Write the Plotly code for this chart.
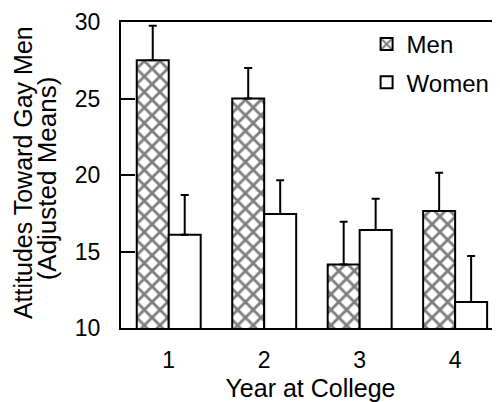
import plotly.graph_objects as go

years = [1, 2, 3, 4]
year_labels = ["1", "2", "3", "4"]
men_means = [27.5, 25.0, 14.15, 17.65]
men_err = [2.25, 2.0, 2.8, 2.5]
women_means = [16.1, 17.45, 16.4, 11.7]
women_err = [2.6, 2.2, 2.05, 3.0]

FONT = "Liberation Sans, Arial, Helvetica, sans-serif"

fig = go.Figure()
fig.add_trace(go.Bar(
    x=years, y=men_means, name="Men", legendgroup="m",
    marker=dict(color="white", line=dict(color="black", width=2),
                pattern=dict(shape="x", fgcolor="black", bgcolor="white",
                             size=11, solidity=0.45)),
    error_y=dict(type="data", symmetric=False, array=men_err,
                 arrayminus=[0] * len(men_err), color="black",
                 thickness=2, width=4),
))
fig.add_trace(go.Bar(
    x=years, y=women_means, name="Women", legendgroup="w",
    marker=dict(color="white", line=dict(color="black", width=2)),
    error_y=dict(type="data", symmetric=False, array=women_err,
                 arrayminus=[0] * len(women_err), color="black",
                 thickness=2, width=4),
))

# page body has an 8px margin: figure is sized/offset to compensate
fig.update_layout(
    width=492, height=394,
    margin=dict(l=113, r=0, t=14, b=74),
    paper_bgcolor="white", plot_bgcolor="white",
    barmode="group", bargap=0.33, bargroupgap=0,
    font=dict(family=FONT, size=23, color="black"),
    showlegend=True,
    legend=dict(x=0.648, y=1.0, xanchor="left", yanchor="top",
                bgcolor="rgba(0,0,0,0)", borderwidth=0,
                font=dict(size=24), tracegroupgap=4,
                traceorder="grouped"),
    xaxis=dict(range=[0.5, 4.47], tickvals=years, ticktext=year_labels,
               showline=True, linecolor="black", linewidth=2, mirror=True,
               ticks="", showgrid=False, zeroline=False,
               ticklabelstandoff=10,
               title=dict(text="Year at College", font=dict(size=25), standoff=8)),
    yaxis=dict(range=[10, 30], tickvals=[10, 15, 20, 25, 30],
               showline=True, linecolor="black", linewidth=2, mirror=False,
               ticks="inside", ticklen=14, tickwidth=2, tickcolor="black",
               showgrid=False, zeroline=False, ticklabelstandoff=14),
    annotations=[
        dict(text="Attitudes Toward Gay Men", textangle=-90,
             xref="paper", yref="paper", x=0, y=0.508,
             xanchor="center", yanchor="middle", xshift=-98.5,
             showarrow=False, font=dict(size=25)),
        dict(text="(Adjusted Means)", textangle=-90,
             xref="paper", yref="paper", x=0, y=0.489,
             xanchor="center", yanchor="middle", xshift=-74,
             showarrow=False, font=dict(size=26)),
    ],
)

fig.write_html("out.html")
